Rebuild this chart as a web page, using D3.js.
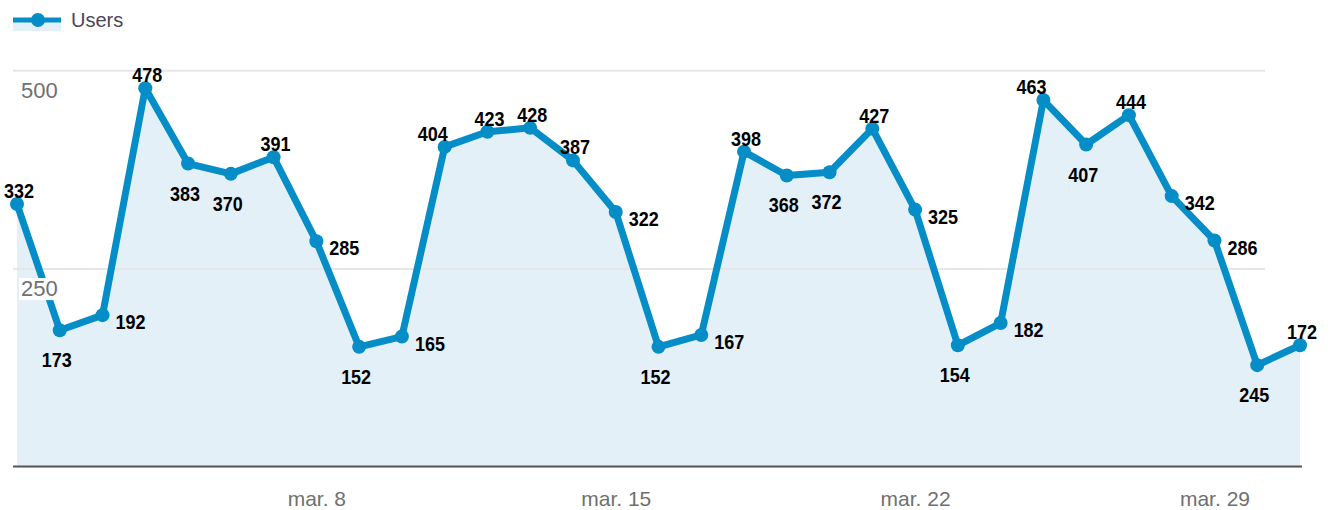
<!DOCTYPE html>
<html>
<head>
  <meta charset="utf-8">
  <title>Users</title>
  <script src="https://cdnjs.cloudflare.com/ajax/libs/d3/7.8.5/d3.min.js"></script>
  <style>
    body { margin: 0; background: #fff; font-family: Arial, "Liberation Sans", sans-serif; }
  </style>
</head>
<body>
<div id="chart"></div>
<script>
var width = 1340;
var height = 510;

// ----- Data -----
// day of March, users (as plotted), printed labels, label placement
var days = d3.range(1, 32);
var users = [332, 173, 192, 478, 383, 370, 391, 285, 152, 165,
             404, 423, 428, 387, 322, 152, 167, 398, 368, 372,
             427, 325, 154, 182, 463, 407, 444, 342, 286, 129, 154];
var labels = ['332', '173', '192', '478', '383', '370', '391', '285', '152', '165',
              '404', '423', '428', '387', '322', '152', '167', '398', '368', '372',
              '427', '325', '154', '182', '463', '407', '444', '342', '286', '245', '172'];
var places = ['a', 'b', 'r', 'a', 'b', 'b', 'a', 'r', 'b', 'r',
              'al', 'a', 'a', 'a', 'r', 'b', 'r', 'a', 'b', 'b',
              'a', 'r', 'b', 'r', 'al', 'b', 'a', 'r', 'r', 'b', 'a'];
var yTicks = [250, 500];
var xTickDays = [8, 15, 22, 29];
var xTickLabels = ['mar. 8', 'mar. 15', 'mar. 22', 'mar. 29'];
var seriesName = 'Users';

var blue = '#058dc7';
var fillBlue = '#e4f0f7';

// ----- Scales -----
var x = d3.scaleLinear().domain([1, 31]).range([17, 1300]);
var y = d3.scaleLinear().domain([0, 500]).range([467.5, 70.7]);

var svg = d3.select('#chart').append('svg')
    .attr('width', width)
    .attr('height', height);

// legend
var lg = svg.append('g');
lg.append('rect').attr('x', 13).attr('y', 20).attr('width', 48).attr('height', 11)
  .attr('fill', fillBlue);
lg.append('line').attr('x1', 13).attr('x2', 61).attr('y1', 20).attr('y2', 20)
  .attr('stroke', blue).attr('stroke-width', 5);
lg.append('circle').attr('cx', 38).attr('cy', 20).attr('r', 7).attr('fill', blue);
lg.append('text').attr('x', 71).attr('y', 27)
  .attr('font-size', 20).attr('fill', '#4a4656')
  .text(seriesName);

// area
var area = d3.area()
    .x(function(d, i) { return x(days[i]); })
    .y0(y(0))
    .y1(function(d) { return y(d); });
svg.append('path').datum(users)
  .attr('d', area)
  .attr('fill', fillBlue);

// gridlines
svg.append('g').selectAll('line').data(yTicks).join('line')
  .attr('x1', 13).attr('x2', 1265)
  .attr('y1', function(d) { return y(d); })
  .attr('y2', function(d) { return y(d); })
  .attr('stroke', '#e6e6e6').attr('stroke-width', 2);

// baseline + x axis
var xAxis = d3.axisBottom(x)
    .tickValues(xTickDays)
    .tickSize(0)
    .tickPadding(24)
    .tickFormat(function(d, i) { return xTickLabels[i]; });
var gx = svg.append('g').attr('transform', 'translate(0,' + y(0) + ')').call(xAxis);
gx.select('.domain').remove();
gx.selectAll('text').attr('font-size', 21).attr('fill', '#707070')
  .attr('font-family', 'Arial, "Liberation Sans", sans-serif');
svg.append('line')
  .attr('x1', 13).attr('x2', 1302)
  .attr('y1', y(0) - 1).attr('y2', y(0) - 1)
  .attr('stroke', '#555').attr('stroke-width', 2);

// line + dots
var line = d3.line()
    .x(function(d, i) { return x(days[i]); })
    .y(function(d) { return y(d); });
svg.append('path').datum(users)
  .attr('d', line)
  .attr('fill', 'none')
  .attr('stroke', blue)
  .attr('stroke-width', 7)
  .attr('stroke-linejoin', 'round');

svg.append('g').selectAll('circle').data(users).join('circle')
  .attr('cx', function(d, i) { return x(days[i]); })
  .attr('cy', function(d) { return y(d); })
  .attr('r', 7)
  .attr('fill', blue);

// y tick labels sit on a white box, over the line
var gy = svg.append('g');
yTicks.forEach(function(t) {
  var bg = gy.append('rect').attr('fill', '#fff');
  var tx = gy.append('text')
    .attr('x', 21)
    .attr('y', y(t) + 27)
    .attr('font-size', 22).attr('fill', '#707070')
    .text(t);
  var bb = tx.node().getBBox();
  bg.attr('x', bb.x - 2).attr('y', bb.y + 2)
    .attr('width', bb.width + 4).attr('height', bb.height - 3);
});

// value labels
var off = {
  a:  { dx: 2, dy: -6, anchor: 'middle' },
  al: { dx: -12, dy: -6, anchor: 'middle' },
  b:  { dx: -3, dy: 37, anchor: 'middle' },
  r:  { dx: 13, dy: 14, anchor: 'start' }
};
svg.append('g').selectAll('text').data(users).join('text')
  .attr('x', function(d, i) { return x(days[i]) + off[places[i]].dx; })
  .attr('y', function(d, i) { return y(d) + off[places[i]].dy; })
  .attr('text-anchor', function(d, i) { return off[places[i]].anchor; })
  .attr('font-family', '"Liberation Sans Narrow", "Liberation Sans", Arial, sans-serif')
  .attr('font-weight', 'bold')
  .attr('font-size', 21)
  .attr('fill', '#000')
  .attr('textLength', function(d, i) { return labels[i].length * 10; })
  .attr('lengthAdjust', 'spacingAndGlyphs')
  .text(function(d, i) { return labels[i]; });
</script>
</body>
</html>
